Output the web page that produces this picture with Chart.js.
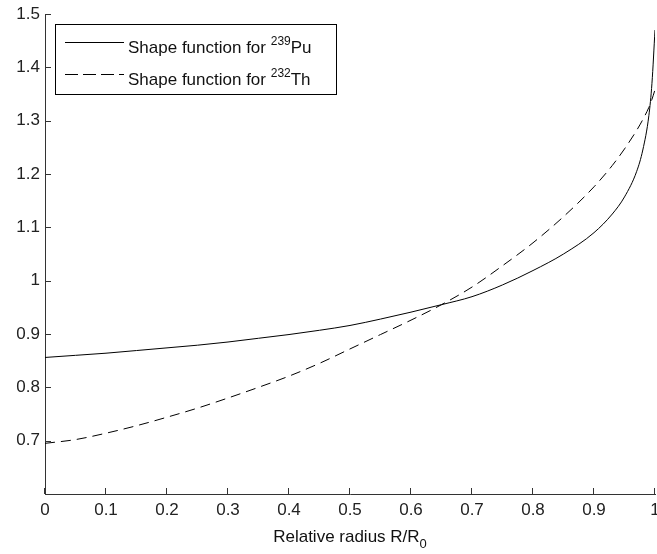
<!DOCTYPE html>
<html>
<head>
<meta charset="utf-8">
<script src="https://cdn.jsdelivr.net/npm/chart.js@4"></script>
<style>
  html, body { margin: 0; padding: 0; background: #fff; }
  #wrap { width: 657px; height: 554px; }
</style>
</head>
<body>
<div id="wrap"><canvas id="myChart" width="657" height="554"></canvas></div>
<script>
// relative radius R/R0
let radio = [0, 0.05, 0.1, 0.15, 0.2, 0.25, 0.3, 0.35, 0.4, 0.45, 0.5, 0.55, 0.6, 0.65, 0.7, 0.75, 0.8, 0.85, 0.9, 0.93, 0.95, 0.97, 0.98, 0.99, 0.995, 1.0];
let forma_pu = [0.856, 0.860, 0.864, 0.869, 0.874, 0.879, 0.885, 0.892, 0.899, 0.907, 0.916, 0.928, 0.941, 0.955, 0.970, 0.992, 1.019, 1.050, 1.090, 1.125, 1.157, 1.205, 1.245, 1.31, 1.37, 1.47];
let forma_th = [0.695, 0.702, 0.714, 0.728, 0.744, 0.761, 0.780, 0.800, 0.821, 0.845, 0.872, 0.899, 0.926, 0.955, 0.988, 1.028, 1.071, 1.120, 1.176, 1.216, 1.247, 1.282, 1.302, 1.325, 1.340, 1.358];
let etiquetas_x = [0, 0.1, 0.2, 0.3, 0.4, 0.5, 0.6, 0.7, 0.8, 0.9, 1];
let etiquetas_y = [0.7, 0.8, 0.9, 1, 1.1, 1.2, 1.3, 1.4, 1.5];
let nombres = [["Shape function for ", "239", "Pu"], ["Shape function for ", "232", "Th"]];

const fuente = '"Liberation Sans", Arial, sans-serif';
const gris = '#333';

function puntos(ys) {
    let salida = [];
    for (let i = 0; i < radio.length; i++) {
        salida.push({ x: radio[i], y: ys[i] });
    }
    return salida;
}

// ticks pointing inward, legend with superscripts, x title with subscript
const extras = {
    id: 'extras',
    afterDraw(chart) {
        const ctx = chart.ctx;
        const xs = chart.scales.x;
        const ys = chart.scales.y;
        const area = chart.chartArea;
        ctx.save();
        ctx.strokeStyle = gris;
        ctx.lineWidth = 1;
        ctx.beginPath();
        etiquetas_x.forEach(v => {
            let px = Math.round(xs.getPixelForValue(v)) - 0.5;
            ctx.moveTo(px, area.bottom);
            ctx.lineTo(px, area.bottom - 6);
        });
        etiquetas_y.forEach(v => {
            let py = Math.round(ys.getPixelForValue(v)) + 0.5;
            ctx.moveTo(area.left, py);
            ctx.lineTo(area.left + 6, py);
        });
        ctx.stroke();

        // legend
        ctx.fillStyle = '#fff';
        ctx.fillRect(55.5, 24.5, 281, 70);
        ctx.strokeStyle = '#000';
        ctx.strokeRect(55.5, 24.5, 281, 70);
        const filas = [42, 74];
        chart.data.datasets.forEach((ds, i) => {
            ctx.strokeStyle = '#000';
            ctx.setLineDash(i == 1 ? [13, 5] : []);
            ctx.beginPath();
            ctx.moveTo(65, filas[i] + 0.5);
            ctx.lineTo(124, filas[i] + 0.5);
            ctx.stroke();
            ctx.setLineDash([]);
            let partes = nombres[i];
            let x = 128;
            let base = filas[i] + 11;
            ctx.fillStyle = '#111';
            ctx.textBaseline = 'alphabetic';
            ctx.textAlign = 'left';
            ctx.font = '17px ' + fuente;
            ctx.fillText(partes[0], x, base);
            x += ctx.measureText(partes[0]).width;
            ctx.font = '12px ' + fuente;
            ctx.fillText(partes[1], x, base - 8);
            x += ctx.measureText(partes[1]).width;
            ctx.font = '17px ' + fuente;
            ctx.fillText(partes[2], x, base);
        });

        // x axis title
        ctx.fillStyle = '#111';
        let t1 = 'Relative radius R/R';
        ctx.font = '17px ' + fuente;
        let w1 = ctx.measureText(t1).width;
        ctx.font = '13px ' + fuente;
        let w2 = ctx.measureText('0').width;
        let inicio = (area.left + area.right) / 2 - (w1 + w2) / 2;
        ctx.font = '17px ' + fuente;
        ctx.fillText(t1, inicio, 542);
        ctx.font = '13px ' + fuente;
        ctx.fillText('0', inicio + w1, 548);
        ctx.restore();
    }
};

let grafica = document.getElementById("myChart");

new Chart(grafica, {
    type: "line",
    data: {
        datasets: [
            {
                label: "Shape function for 239Pu",
                data: puntos(forma_pu),
                borderColor: '#000',
                borderWidth: 1,
                pointRadius: 0,
                cubicInterpolationMode: 'monotone',
                fill: false
            },
            {
                label: "Shape function for 232Th",
                data: puntos(forma_th),
                borderColor: '#000',
                borderWidth: 1,
                borderDash: [10, 6],
                pointRadius: 0,
                cubicInterpolationMode: 'monotone',
                fill: false
            }
        ]
    },
    options: {
        responsive: false,
        animation: false,
        layout: { padding: { top: 14, right: 2, left: 0, bottom: 0 } },
        plugins: {
            legend: { display: false },
            tooltip: { enabled: false }
        },
        scales: {
            x: {
                type: 'linear',
                min: 0,
                max: 1,
                grid: { display: false, drawTicks: false },
                border: { display: true, color: gris, width: 1 },
                afterBuildTicks: s => { s.ticks = etiquetas_x.map(v => ({ value: v })); },
                afterFit: s => { s.height = 60; s.paddingLeft = 0; s.paddingRight = 0; },
                ticks: {
                    padding: 6,
                    maxRotation: 0,
                    color: '#222',
                    font: { family: fuente, size: 17 },
                    callback: v => String(v)
                }
            },
            y: {
                type: 'linear',
                min: 0.6,
                max: 1.5,
                grid: { display: false, drawTicks: false },
                border: { display: true, color: gris, width: 1 },
                afterBuildTicks: s => { s.ticks = etiquetas_y.map(v => ({ value: v })); },
                afterFit: s => { s.width = 45; s.paddingTop = 0; s.paddingBottom = 0; },
                ticks: {
                    padding: 5,
                    color: '#222',
                    font: { family: fuente, size: 17 },
                    callback: v => String(v)
                }
            }
        }
    },
    plugins: [extras]
});
</script>
</body>
</html>
